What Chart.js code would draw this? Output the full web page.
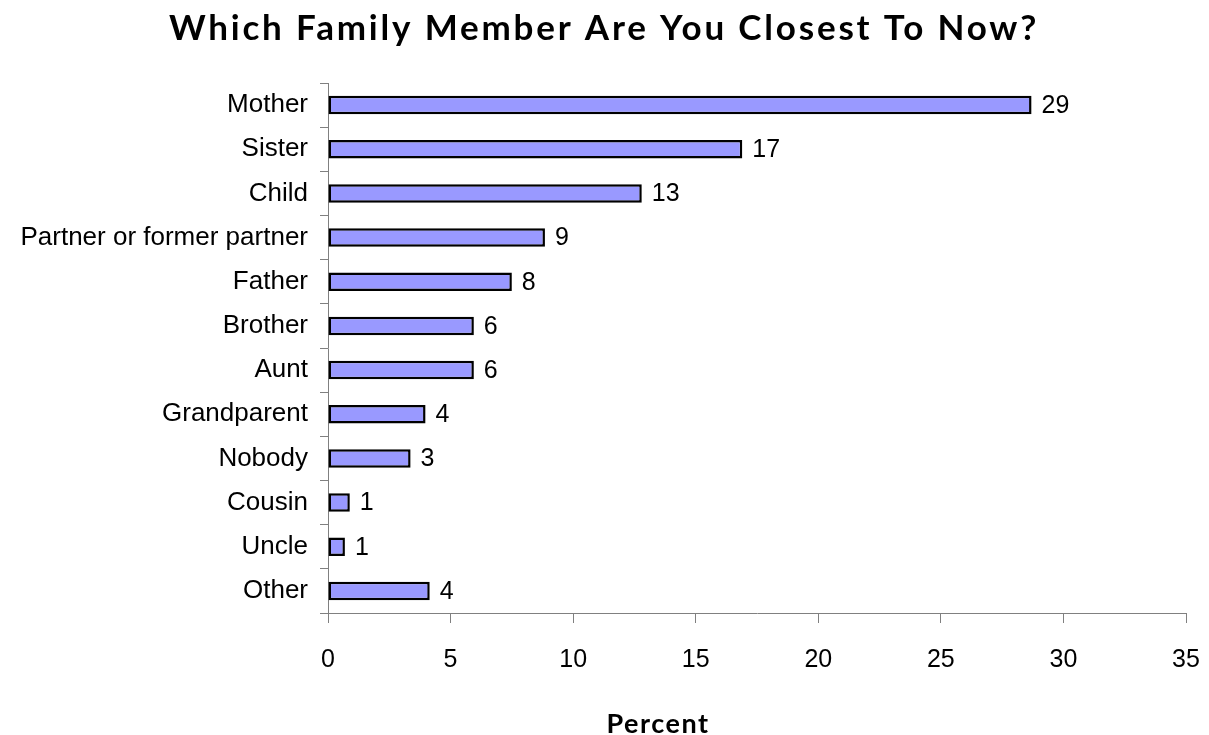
<!DOCTYPE html>
<html>
<head>
<meta charset="utf-8">
<script src="https://cdn.jsdelivr.net/npm/chart.js@4/dist/chart.umd.min.js"></script>
<style>
  body { margin: 0; background: #fff; }
  canvas { display: block; }
</style>
</head>
<body>
<canvas id="chart" width="1209" height="735"></canvas>
<script>
const members = ['Mother', 'Sister', 'Child', 'Partner or former partner', 'Father', 'Brother',
                 'Aunt', 'Grandparent', 'Nobody', 'Cousin', 'Uncle', 'Other'];
const percent = [28.7, 16.9, 12.8, 8.85, 7.5, 5.95, 5.95, 3.98, 3.37, 0.89, 0.69, 4.15];
const xTicks = [0, 5, 10, 15, 20, 25, 30, 35];

const chartTitle = 'Which Family Member Are You Closest To Now?';
const axisTitle = 'Percent';

// value labels at the end of each bar + the two titles
const labelsPlugin = {
    id: 'labels',
    afterDatasetsDraw(chart) {
        const ctx = chart.ctx;
        const meta = chart.getDatasetMeta(0);
        ctx.save();
        ctx.fillStyle = '#000';
        ctx.font = '25px "Liberation Sans", Arial, sans-serif';
        ctx.textBaseline = 'middle';
        ctx.textAlign = 'left';
        meta.data.forEach((bar, i) => {
            ctx.fillText(Math.round(percent[i]), bar.x + 10, bar.y + 1);
        });
        ctx.textBaseline = 'alphabetic';
        ctx.textAlign = 'center';
        ctx.font = 'bold 35px Lato, "Open Sans", sans-serif';
        ctx.letterSpacing = '2.8px';
        ctx.fillText(chartTitle, 604, 40);
        ctx.font = 'bold 27px Lato, "Open Sans", sans-serif';
        ctx.letterSpacing = '1.5px';
        ctx.fillText(axisTitle, 658, 733);
        ctx.restore();
    }
};

const ctx = document.getElementById('chart').getContext('2d');

const chart = new Chart(ctx, {
    type: 'bar',
    data: {
        labels: members,
        datasets: [{
            data: percent,
            backgroundColor: '#9999ff',
            borderColor: '#000',
            borderWidth: 2.5,
            borderSkipped: false,
            categoryPercentage: 1,
            barPercentage: 0.42
        }]
    },
    options: {
        indexAxis: 'y',
        responsive: false,
        animation: false,
        layout: { padding: { top: 83, left: 0, right: 23, bottom: 0 } },
        plugins: {
            legend: { display: false },
            tooltip: { enabled: false }
        },
        scales: {
            x: {
                min: 0,
                max: 35,
                afterBuildTicks: (scale) => { scale.ticks = xTicks.map(v => ({ value: v })); },
                afterFit: (scale) => {
                    scale.height = 122;
                    scale.paddingLeft = 0;
                    scale.paddingRight = 0;
                },
                grid: { drawOnChartArea: false, tickLength: 10, color: '#808080' },
                border: { color: '#808080', width: 1 },
                ticks: {
                    color: '#000',
                    padding: 22,
                    maxRotation: 0,
                    font: { family: '"Liberation Sans", Arial, sans-serif', size: 25 }
                }
            },
            y: {
                afterFit: (scale) => { scale.width = 328; },
                grid: { drawOnChartArea: false, offset: true, tickLength: 8, color: '#808080' },
                border: { color: '#808080', width: 1 },
                ticks: {
                    color: '#000',
                    padding: 12,
                    font: { family: '"Liberation Sans", Arial, sans-serif', size: 26 }
                }
            }
        }
    },
    plugins: [labelsPlugin]
});
</script>
</body>
</html>
